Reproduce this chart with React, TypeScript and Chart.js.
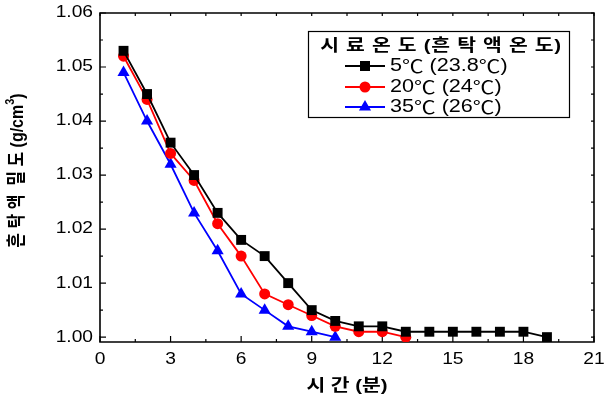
import { useEffect, useRef } from 'react';
import { Chart, registerables } from 'chart.js';

Chart.register(...registerables);

const time5 = [1, 2, 3, 4, 5, 6, 7, 8, 9, 10, 11, 12, 13, 14, 15, 16, 17, 18, 19];
const density5 = [1.053, 1.045, 1.036, 1.030, 1.023, 1.018, 1.015, 1.010, 1.005, 1.003, 1.002, 1.002, 1.001, 1.001, 1.001, 1.001, 1.001, 1.001, 1.000];
const time20 = [1, 2, 3, 4, 5, 6, 7, 8, 9, 10, 11, 12, 13];
const density20 = [1.052, 1.044, 1.034, 1.029, 1.021, 1.015, 1.008, 1.006, 1.004, 1.002, 1.001, 1.001, 1.000];
const time35 = [1, 2, 3, 4, 5, 6, 7, 8, 9, 10];
const density35 = [1.049, 1.040, 1.032, 1.023, 1.016, 1.008, 1.005, 1.002, 1.001, 1.000];

const seriesLabels = ['5℃ (23.8℃)', '20℃ (24℃)', '35℃ (26℃)'];
const seriesColors = ['#000000', '#ff0000', '#0000ff'];
const seriesShapes = ['rect', 'circle', 'triangle'];
const legendTitle = '시 료 온 도 (흔 탁 액 온 도)';
const xTitle = '시 간 (분)';
const yTitleMain = '흔 탁 액  밀 도 (g/cm';
const yTitleSup = '3';
const yTitleEnd = ')';

const xTicks = [0, 3, 6, 9, 12, 15, 18, 21];
const yTicks = [1.0, 1.01, 1.02, 1.03, 1.04, 1.05, 1.06];
const xTickLabels = ['0', '3', '6', '9', '12', '15', '18', '21'];
const yTickLabels = ['1.00', '1.01', '1.02', '1.03', '1.04', '1.05', '1.06'];

const FONT = '"Liberation Sans", "Noto Sans CJK KR", sans-serif';
const CJK = '"Noto Sans CJK KR", sans-serif';
const SX = 1.2;

function drawText(ctx: CanvasRenderingContext2D, text: string, x: number, y: number, align: CanvasTextAlign, size: number, weight = 'normal', spacing = 0) {
  ctx.save();
  ctx.translate(x, y);
  ctx.scale(SX, 1);
  ctx.font = `${weight} ${size}px ${FONT}`;
  (ctx as any).letterSpacing = `${spacing}px`;
  ctx.textAlign = align;
  ctx.textBaseline = 'middle';
  ctx.fillStyle = '#000';
  ctx.fillText(text, 0, 0);
  ctx.restore();
}

// Left-aligned text where the degree sign ℃ is taken from the CJK font
function drawLabel(ctx: CanvasRenderingContext2D, text: string, x: number, y: number, size: number) {
  ctx.save();
  ctx.translate(x, y);
  ctx.scale(SX, 1);
  ctx.textAlign = 'left';
  ctx.textBaseline = 'middle';
  ctx.fillStyle = '#000';
  let cx = 0;
  text.split(/(℃)/).forEach((part) => {
    if (!part) return;
    ctx.font = part === '℃' ? `${size}px ${CJK}` : `${size}px ${FONT}`;
    ctx.fillText(part, cx, 0);
    cx += ctx.measureText(part).width;
  });
  ctx.restore();
}

function drawMarker(ctx: CanvasRenderingContext2D, shape: string, x: number, y: number, color: string) {
  ctx.save();
  ctx.fillStyle = color;
  ctx.beginPath();
  if (shape === 'rect') {
    ctx.rect(x - 5, y - 5, 10, 10);
  } else if (shape === 'circle') {
    ctx.arc(x, y, 5.5, 0, Math.PI * 2);
  } else {
    const r = 7;
    ctx.moveTo(x, y - r);
    ctx.lineTo(x + Math.sin((2 * Math.PI) / 3) * r, y + r / 2);
    ctx.lineTo(x - Math.sin((2 * Math.PI) / 3) * r, y + r / 2);
    ctx.closePath();
  }
  ctx.fill();
  ctx.restore();
}

const framePlugin = {
  id: 'frameAndText',
  beforeDatasetsDraw(chart: any) {
    const { ctx, chartArea, scales } = chart;
    const { left, right, top, bottom } = chartArea;
    const x = scales.x;
    const y = scales.y;
    ctx.save();
    ctx.strokeStyle = '#000';
    ctx.lineWidth = 1.6;
    ctx.beginPath();
    ctx.rect(left, top, right - left, bottom - top);
    ctx.stroke();
    ctx.lineWidth = 1.2;
    ctx.beginPath();
    xTicks.forEach((v, i) => {
      const px = x.getPixelForValue(v);
      ctx.moveTo(px, bottom);
      ctx.lineTo(px, bottom - 6);
      ctx.moveTo(px, top);
      ctx.lineTo(px, top + 3);
      if (i < xTicks.length - 1) {
        const pm = x.getPixelForValue((v + xTicks[i + 1]) / 2);
        ctx.moveTo(pm, bottom);
        ctx.lineTo(pm, bottom - 3);
        ctx.moveTo(pm, top);
        ctx.lineTo(pm, top + 3);
      }
    });
    yTicks.forEach((v, i) => {
      const py = y.getPixelForValue(v);
      ctx.moveTo(left, py);
      ctx.lineTo(left + 6, py);
      ctx.moveTo(right, py);
      ctx.lineTo(right - 3, py);
      if (i < yTicks.length - 1) {
        const pm = y.getPixelForValue((v + yTicks[i + 1]) / 2);
        ctx.moveTo(left, pm);
        ctx.lineTo(left + 3, pm);
        ctx.moveTo(right, pm);
        ctx.lineTo(right - 3, pm);
      }
    });
    ctx.stroke();
    ctx.restore();

    // tick labels
    xTicks.forEach((v, i) => {
      drawText(ctx, xTickLabels[i], x.getPixelForValue(v), bottom + 18, 'center', 16);
    });
    yTicks.forEach((v, i) => {
      drawText(ctx, yTickLabels[i], left - 7, y.getPixelForValue(v), 'right', 16);
    });

    // axis titles
    drawText(ctx, xTitle, (left + right) / 2, 386, 'center', 17, 'bold');

    ctx.save();
    ctx.translate(18, (top + bottom) / 2 - 7);
    ctx.scale(SX, 1);
    ctx.rotate(-Math.PI / 2);
    ctx.fillStyle = '#000';
    ctx.textBaseline = 'middle';
    ctx.textAlign = 'left';
    ctx.font = `bold 16px ${FONT}`;
    const w1 = ctx.measureText(yTitleMain).width;
    const w3 = ctx.measureText(yTitleEnd).width;
    ctx.font = `bold 11px ${FONT}`;
    const w2 = ctx.measureText(yTitleSup).width;
    const total = w1 + w2 + w3;
    let cx = -total / 2;
    ctx.font = `bold 16px ${FONT}`;
    ctx.fillText(yTitleMain, cx, 0);
    cx += w1;
    ctx.font = `bold 11px ${FONT}`;
    ctx.fillText(yTitleSup, cx, -6);
    cx += w2;
    ctx.font = `bold 16px ${FONT}`;
    ctx.fillText(yTitleEnd, cx, 0);
    ctx.restore();
  },
  afterDraw(chart: any) {
    const { ctx } = chart;
    ctx.save();
    ctx.fillStyle = '#fff';
    ctx.fillRect(308, 31, 261, 86);
    ctx.strokeStyle = '#000';
    ctx.lineWidth = 1.2;
    ctx.strokeRect(308.5, 31.5, 261, 86);
    ctx.restore();
    drawText(ctx, legendTitle, 441, 46, 'center', 17, 'bold', 0.6);
    const rows = [66, 87, 107];
    chart.data.datasets.forEach((ds: any, i: number) => {
      const ry = rows[i];
      ctx.save();
      ctx.strokeStyle = ds.borderColor;
      ctx.lineWidth = 1.8;
      ctx.beginPath();
      ctx.moveTo(345, ry);
      ctx.lineTo(385, ry);
      ctx.stroke();
      ctx.restore();
      drawMarker(ctx, seriesShapes[i], 365, ry, ds.borderColor);
      drawLabel(ctx, ds.label, 390, ry, 18);
    });
  },
};

function toPoints(xs: number[], ys: number[]) {
  return xs.map((t, i) => ({ x: t, y: ys[i] }));
}

export default function App() {
  const ref = useRef<HTMLCanvasElement | null>(null);
  useEffect(() => {
    document.body.style.margin = '0';
    const canvas = ref.current;
    if (!canvas) return;
    const sets = [
      toPoints(time5, density5),
      toPoints(time20, density20),
      toPoints(time35, density35),
    ];
    const chart = new Chart(canvas, {
      type: 'line',
      data: {
        datasets: sets.map((d, i) => ({
          label: seriesLabels[i],
          data: d,
          borderColor: seriesColors[i],
          backgroundColor: seriesColors[i],
          pointBackgroundColor: seriesColors[i],
          pointBorderColor: seriesColors[i],
          pointStyle: seriesShapes[i] as any,
          pointRadius: i === 0 ? 7 : i === 1 ? 5.5 : 7,
          pointBorderWidth: 0,
          borderWidth: 1.8,
          tension: 0,
          fill: false,
        })),
      },
      options: {
        animation: false,
        responsive: false,
        devicePixelRatio: 1,
        layout: { padding: { left: 0, right: 11, top: 13, bottom: 0 } },
        plugins: { legend: { display: false }, tooltip: { enabled: false } },
        scales: {
          x: {
            type: 'linear',
            min: 0,
            max: 21,
            afterBuildTicks: (s: any) => {
              s.ticks = xTicks.map((v) => ({ value: v }));
            },
            afterFit: (s: any) => {
              s.height = 57;
            },
            ticks: { display: false },
            grid: { display: false, drawTicks: false },
            border: { display: false },
          },
          y: {
            type: 'linear',
            min: 0.9991,
            max: 1.06,
            afterBuildTicks: (s: any) => {
              s.ticks = yTicks.map((v) => ({ value: v }));
            },
            afterFit: (s: any) => {
              s.width = 100;
            },
            ticks: { display: false },
            grid: { display: false, drawTicks: false },
            border: { display: false },
          },
        },
      },
      plugins: [framePlugin],
    });
    return () => chart.destroy();
  }, []);
  return (
    <div style={{ width: 605, height: 399 }}>
      <canvas ref={ref} width={605} height={399} style={{ display: 'block', width: 605, height: 399 }} />
    </div>
  );
}
